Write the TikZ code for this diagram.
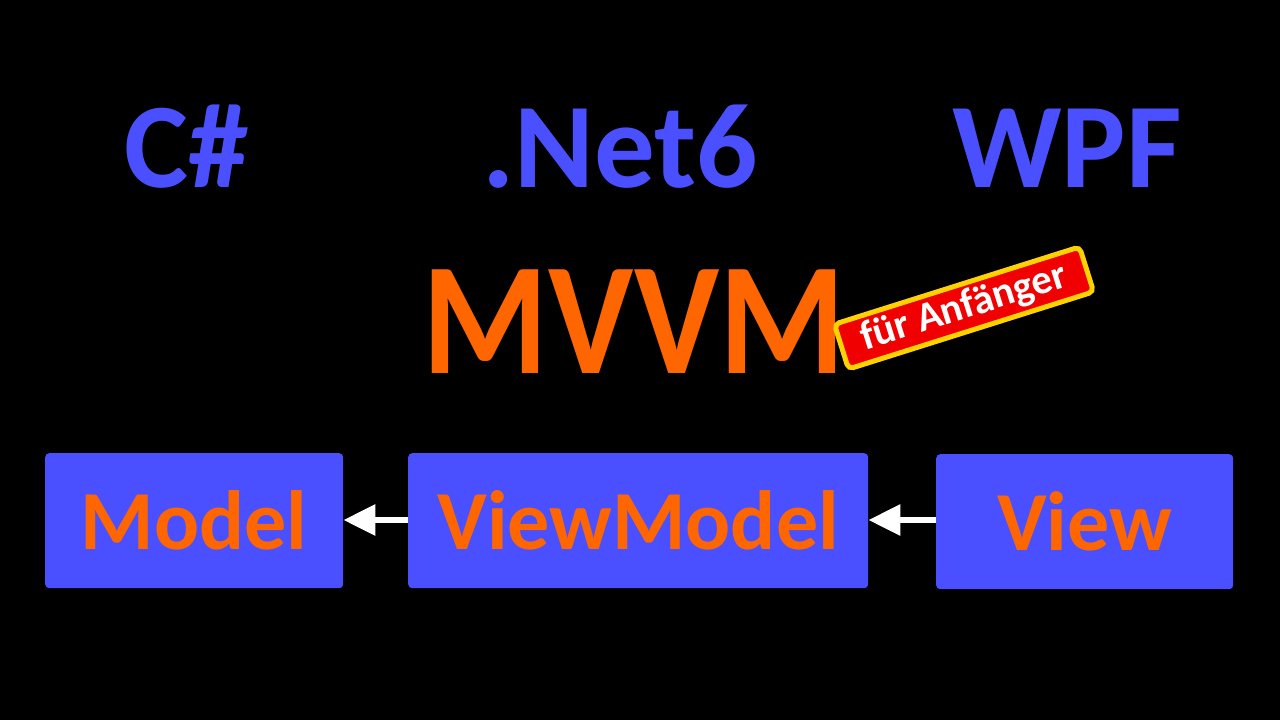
\documentclass[tikz,border=0pt]{standalone}
\usepackage{fontspec}
\setmainfont{Carlito}
\usetikzlibrary{arrows.meta}
\definecolor{myblue}{RGB}{74,80,255}
\definecolor{myorange}{RGB}{255,102,0}
\definecolor{badgered}{RGB}{240,0,0}
\definecolor{badgeyellow}{RGB}{255,210,0}
\tikzset{
  box/.style={fill=myblue, rounded corners=4pt, inner sep=0pt, text=myorange,
    font=\fontsize{84}{84}\selectfont\bfseries, anchor=north west},
  title/.style={text=myblue, font=\fontsize{121}{121}\selectfont\bfseries, anchor=base, inner sep=0pt},
  link/.style={white, line width=6pt, -{Triangle[width=30pt,length=32pt]}}
}
\begin{document}
\begin{tikzpicture}[x=1pt,y=-1pt]
\fill[black] (0,0) rectangle (1280,720);
\useasboundingbox (0,0) rectangle (1280,720);
\node[title] (cs) at (187,187) {C\#};
\node[title] (net) at (620,187) {.Net6};
\node[title] (wpf) at (1067,187) {WPF};
\node[text=myorange, font=\fontsize{160}{160}\selectfont\bfseries, anchor=base, inner sep=0pt, xscale=0.9] (mvvm) at (634,373) {MVVM};
\node[fill=badgered, draw=badgeyellow, line width=5pt, rounded corners=5pt, rotate=17.5,
  minimum width=257pt, minimum height=47pt, inner sep=0pt, text=white,
  font=\fontsize{41}{41}\selectfont\bfseries] (badge) at (964,308) {für Anfänger};
\node[box, minimum width=298pt, minimum height=135pt] (model) at (45,453) {Model};
\node[box, minimum width=460pt, minimum height=135pt] (vm) at (408,453) {ViewModel};
\node[box, minimum width=297pt, minimum height=135pt] (view) at (936,454) {View};
\draw[link] (vm.west |- 0,520) -- (model.east |- 0,520);
\draw[link] (view.west |- 0,520) -- (vm.east |- 0,520);
\end{tikzpicture}
\end{document}
